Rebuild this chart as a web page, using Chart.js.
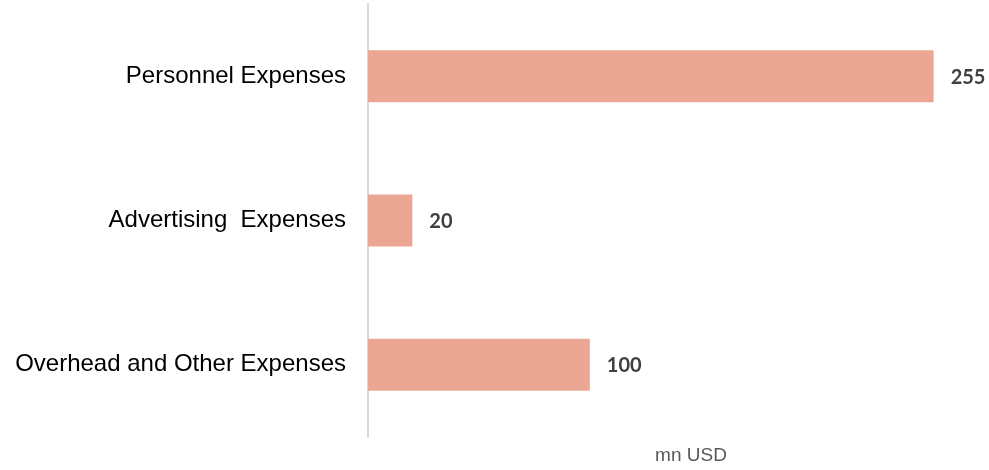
<!DOCTYPE html>
<html>
<head>
<meta charset="utf-8">
<script src="https://cdn.jsdelivr.net/npm/chart.js@4/dist/chart.umd.min.js"></script>
<style>
  html, body { margin: 0; padding: 0; background: #fff; }
  #wrap { width: 989px; height: 470px; position: relative; }
</style>
</head>
<body>
<div id="wrap"><canvas id="expenseChart"></canvas></div>
<script>
// expense breakdown, mn USD
const categories = ['Personnel Expenses', 'Advertising  Expenses', 'Overhead and Other Expenses'];
const expenseValues = [255, 20, 100];
const axisTitle = 'mn USD';

// writes the value just past the end of each bar
const barValueLabels = {
  id: 'barValueLabels',
  afterDatasetsDraw(chart) {
    const { ctx } = chart;
    const meta = chart.getDatasetMeta(0);
    ctx.save();
    ctx.font = 'bold 20px Lato, "Open Sans", sans-serif';
    ctx.fillStyle = '#404040';
    ctx.textAlign = 'left';
    ctx.textBaseline = 'middle';
    meta.data.forEach((bar, i) => {
      ctx.fillText(String(expenseValues[i]), bar.x + 17, bar.y + 1);
    });
    ctx.restore();
  }
};

// unit caption under the value axis, a bit right of centre
const unitCaption = {
  id: 'unitCaption',
  afterDraw(chart) {
    const { ctx, chartArea } = chart;
    ctx.save();
    ctx.font = '19px Arial, "Liberation Sans", sans-serif';
    ctx.fillStyle = '#595959';
    ctx.textAlign = 'center';
    ctx.textBaseline = 'middle';
    ctx.fillText(axisTitle, chartArea.left + 323, chartArea.bottom + 19);
    ctx.restore();
  }
};

const ctx = document.getElementById('expenseChart').getContext('2d');
new Chart(ctx, {
  type: 'bar',
  data: {
    labels: categories,
    datasets: [{
      data: expenseValues,
      backgroundColor: '#eca794',
      borderWidth: 0,
      barPercentage: 0.6,
      categoryPercentage: 0.6,
    }],
  },
  options: {
    indexAxis: 'y',
    responsive: true,
    maintainAspectRatio: false,
    animation: false,
    layout: { padding: { top: 4, right: 11, left: 15, bottom: 33 } },
    plugins: {
      legend: { display: false },
      tooltip: { enabled: false },
    },
    scales: {
      x: {
        display: false,
        min: 0,
        max: 275,
      },
      y: {
        grid: { display: false, drawTicks: false },
        border: { display: true, color: '#d9d9d9', width: 2 },
        ticks: {
          color: '#000',
          padding: 22,
          font: { family: 'Arial, "Liberation Sans", sans-serif', size: 24 },
        },
        // fixed label column; no extra room above/below the category band
        afterFit(scale) {
          scale.width = 353;
          scale.paddingTop = 0;
          scale.paddingBottom = 0;
        },
      },
    },
  },
  plugins: [barValueLabels, unitCaption],
});
</script>
</body>
</html>
